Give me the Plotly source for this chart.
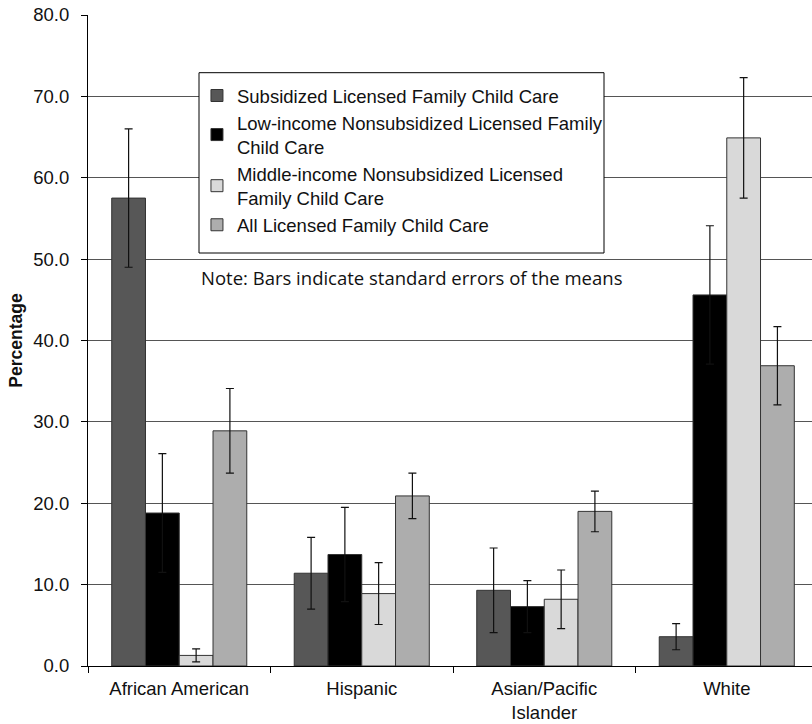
import plotly.graph_objects as go

categories = ["African American", "Hispanic", "Asian/Pacific<br>Islander", "White"]
series_names = [
    "Subsidized Licensed Family Child Care",
    "Low-income Nonsubsidized Licensed Family<br>Child Care",
    "Middle-income Nonsubsidized Licensed<br>Family Child Care",
    "All Licensed Family Child Care",
]
subsidized = [57.5, 11.4, 9.3, 3.6]
subsidized_se = [8.5, 4.4, 5.2, 1.6]
low_income = [18.8, 13.7, 7.3, 45.6]
low_income_se = [7.3, 5.8, 3.2, 8.5]
middle_income = [1.3, 8.9, 8.2, 64.9]
middle_income_se = [0.8, 3.8, 3.6, 7.4]
all_licensed = [28.9, 20.9, 19.0, 36.9]
all_licensed_se = [5.2, 2.8, 2.5, 4.8]
y_ticks = [0, 10, 20, 30, 40, 50, 60, 70, 80]

colors = ["#575757", "#000000", "#d9d9d9", "#adadad"]
values = [subsidized, low_income, middle_income, all_licensed]
errors = [subsidized_se, low_income_se, middle_income_se, all_licensed_se]

xpos = list(range(len(categories)))

fig = go.Figure()
for name, vals, errs, col in zip(series_names, values, errors, colors):
    fig.add_trace(go.Bar(
        name=name, x=xpos, y=vals,
        marker=dict(color=col, line=dict(color="#333333", width=1)),
        error_y=dict(type="data", array=errs, visible=True,
                     color="#111111", thickness=1.2, width=4),
    ))

fig.update_layout(
    width=812, height=724,
    margin=dict(l=88, r=0, t=15, b=58, autoexpand=False),
    paper_bgcolor="white", plot_bgcolor="white",
    barmode="group", bargap=0.26, bargroupgap=0,
    font=dict(family="Liberation Sans, Arial, sans-serif", size=18, color="#111111"),
    showlegend=True,
    legend=dict(
        x=0.1505, y=0.9048, xanchor="left", yanchor="top",
        bgcolor="rgba(0,0,0,0)", borderwidth=0,
        font=dict(size=18.5, color="#111111"),
        tracegroupgap=0, itemwidth=30,
    ),
    xaxis=dict(
        range=[-0.5, 3.467], automargin=False,
        tickmode="array", tickvals=xpos, ticktext=categories,
        ticks="", showgrid=False, zeroline=False,
        showline=True, linecolor="#000000", linewidth=1,
        minor=dict(tickmode="array", tickvals=[-0.5, 0.5, 1.5, 2.5],
                   ticks="outside", ticklen=6, tickcolor="#000000", tickwidth=1,
                   showgrid=False),
        tickfont=dict(size=18.5),
        ticklabelstandoff=6,
    ),
    yaxis=dict(
        range=[0, 80], tickmode="array", tickvals=y_ticks, tickformat=".1f",
        automargin=False,
        ticks="outside", ticklen=6, tickcolor="#000000",
        showgrid=True, gridcolor="#555555", gridwidth=1,
        zeroline=False, showline=True, linecolor="#000000", linewidth=1,
        tickfont=dict(size=18.5),
        ticklabelstandoff=8,
        title=dict(text="<b>Percentage</b>", font=dict(size=17.5), standoff=6),
    ),
)

# legend frame
fig.add_shape(
    type="rect", xref="paper", yref="paper",
    x0=(199 - 88) / 724, x1=(604 - 88) / 724,
    y0=(666 - 253) / 651, y1=(666 - 72.7) / 651,
    line=dict(color="#000000", width=1), fillcolor="white", layer="above",
)

fig.add_annotation(
    text="Note: Bars indicate standard errors of the means",
    xref="paper", yref="paper", x=0.1533, y=0.5975,
    xanchor="left", yanchor="middle", showarrow=False,
    font=dict(family="Open Sans, Noto Sans, sans-serif", size=18.5, color="#111111"),
)

fig.write_html(
    "out.html",
    config={"displayModeBar": False},
    post_script=(
        "document.documentElement.style.overflow='hidden';"
        "document.body.style.margin='0';"
        "document.body.style.overflow='hidden';"
    ),
)
